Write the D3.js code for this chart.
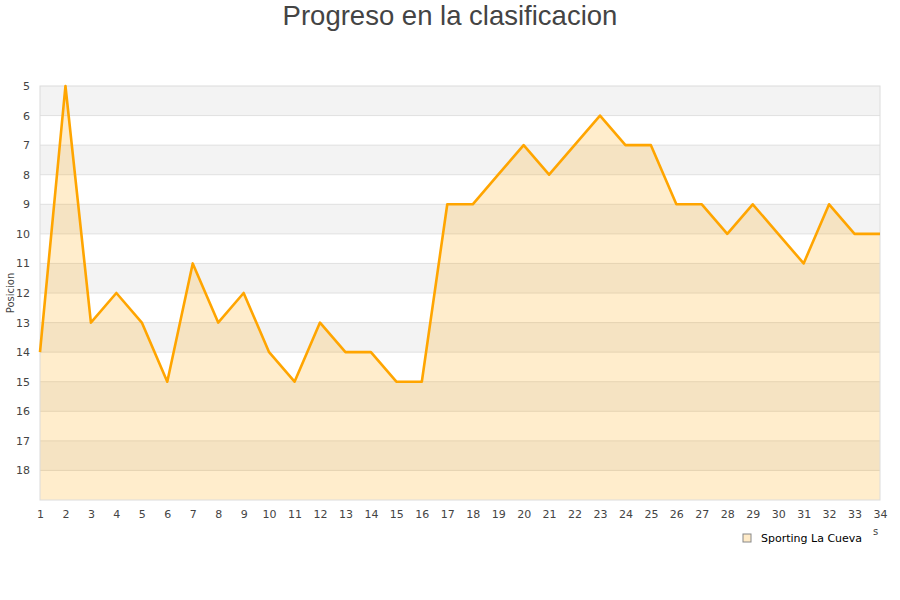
<!DOCTYPE html>
<html>
<head>
<meta charset="utf-8">
<script src="https://cdn.jsdelivr.net/npm/d3@7"></script>
<style>
  body { margin: 0; background: #fff; }
  .tick text { font-family: "DejaVu Sans", sans-serif; font-size: 11px; fill: #444; }
</style>
</head>
<body>
<div id="chart"></div>
<script>
// jornadas and posicion per jornada
var jornadas = d3.range(1, 35);
var posiciones = [14, 5, 13, 12, 13, 15, 11, 13, 12, 14, 15, 13, 14, 14, 15, 15, 9, 9, 8, 7, 8, 7, 6, 7, 7, 9, 9, 10, 9, 10, 11, 9, 10, 10];
var yTicks = [5, 6, 7, 8, 9, 10, 11, 12, 13, 14, 15, 16, 17, 18];
var seriesName = "Sporting La Cueva";
var chartTitle = "Progreso en la clasificacion";

var outerWidth = 900, outerHeight = 600;
var margin = {top: 86, right: 20, bottom: 100, left: 40};
var innerWidth = outerWidth - margin.left - margin.right;
var innerHeight = outerHeight - margin.top - margin.bottom;

var svgRoot = d3.select("#chart").append("svg")
  .attr("width", outerWidth)
  .attr("height", outerHeight);

svgRoot.append("text")
  .attr("x", outerWidth / 2)
  .attr("y", 25)
  .attr("text-anchor", "middle")
  .style("font-family", "'Liberation Sans', Arial, sans-serif")
  .style("font-size", "27.5px")
  .style("fill", "#444")
  .text(chartTitle);

var svg = svgRoot.append("g")
  .attr("transform", "translate(" + margin.left + "," + margin.top + ")");

//scales
var xScale = d3.scaleLinear().domain([1, 34]).range([0, innerWidth]);
var yScale = d3.scaleLinear().domain([5, 19]).range([0, innerHeight]);

//alternating bands
svg.selectAll(".band")
  .data(d3.range(5, 19))
  .enter().append("rect")
  .attr("class", "band")
  .attr("x", 0)
  .attr("y", function(d) { return yScale(d); })
  .attr("width", innerWidth)
  .attr("height", function(d) { return yScale(d + 1) - yScale(d); })
  .attr("fill", function(d) { return (d % 2 === 1) ? "#f3f3f3" : "#ffffff"; });

//grid lines
svg.selectAll(".grid")
  .data(d3.range(6, 19))
  .enter().append("line")
  .attr("x1", 0).attr("x2", innerWidth)
  .attr("y1", function(d) { return yScale(d); })
  .attr("y2", function(d) { return yScale(d); })
  .attr("stroke", "#e0e0e0")
  .attr("stroke-width", 1);

var area = d3.area()
  .x(function(d, i) { return xScale(jornadas[i]); })
  .y0(innerHeight)
  .y1(function(d) { return yScale(d); });

var line = d3.line()
  .x(function(d, i) { return xScale(jornadas[i]); })
  .y(function(d) { return yScale(d); });

svg.append("path")
  .datum(posiciones)
  .attr("fill", "#ffa500")
  .attr("fill-opacity", 0.2)
  .attr("d", area);

//plot border
svg.append("rect")
  .attr("x", 0).attr("y", 0)
  .attr("width", innerWidth).attr("height", innerHeight)
  .attr("fill", "none")
  .attr("stroke", "#dcdcdc");

svg.append("path")
  .datum(posiciones)
  .attr("fill", "none")
  .attr("stroke", "#ffa500")
  .attr("stroke-width", 2.6)
  .attr("stroke-linejoin", "round")
  .attr("d", line);

//axes
var xAxis = d3.axisBottom(xScale).tickValues(jornadas).tickSize(0).tickPadding(10).tickFormat(d3.format("d"));
var yAxis = d3.axisLeft(yScale).tickValues(yTicks).tickSize(0).tickPadding(10);

svg.append("g")
  .attr("transform", "translate(0," + innerHeight + ")")
  .call(xAxis);

svg.append("g")
  .call(yAxis);

d3.selectAll(".domain").remove();

svgRoot.append("text")
  .attr("transform", "translate(14," + (margin.top + 207) + ") rotate(-90)")
  .attr("text-anchor", "middle")
  .style("font-family", "'DejaVu Sans', sans-serif")
  .style("font-size", "10px")
  .style("fill", "#444")
  .text("Posicion");

//clipped axis title remnant
svgRoot.append("text")
  .attr("x", 873).attr("y", 535)
  .style("font-family", "'DejaVu Sans', sans-serif")
  .style("font-size", "10px")
  .style("fill", "#444")
  .text("s");

//legend
var legend = svgRoot.append("g").attr("transform", "translate(743,534)");
legend.append("rect")
  .attr("width", 8).attr("height", 8)
  .attr("fill", "#ffebc8")
  .attr("stroke", "#888")
  .attr("stroke-width", 1);
legend.append("text")
  .attr("x", 18).attr("y", 8)
  .style("font-family", "'DejaVu Sans', sans-serif")
  .style("font-size", "11px")
  .style("fill", "#000")
  .text(seriesName);
</script>
</body>
</html>
